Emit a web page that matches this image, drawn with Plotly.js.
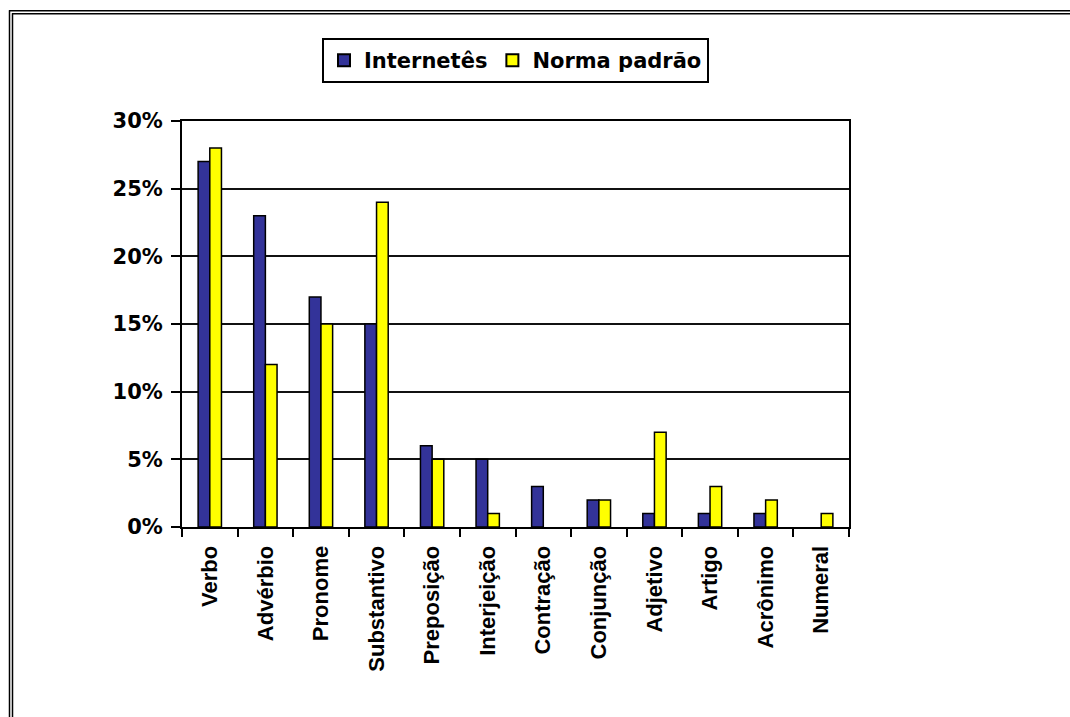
<!DOCTYPE html>
<html>
<head>
<meta charset="utf-8">
<script src="https://cdn.plot.ly/plotly-3.0.1.min.js"></script>
<style>
html,body{margin:0;padding:0;background:#fff;}
#chart{width:1070px;height:717px;}
</style>
</head>
<body>
<div id="chart"></div>
<script>
const categories = ["Verbo","Advérbio","Pronome","Substantivo","Preposição","Interjeição","Contração","Conjunção","Adjetivo","Artigo","Acrônimo","Numeral"];
const internetes = [0.27,0.23,0.17,0.15,0.06,0.05,0.03,0.02,0.01,0.01,0.01,0.00];
const normaPadrao = [0.28,0.12,0.15,0.24,0.05,0.01,0.00,0.02,0.07,0.03,0.02,0.01];
const seriesNames = ["Internetês","Norma padrão"];
const yTickVals = [0,0.05,0.10,0.15,0.20,0.25,0.30];
const yTickText = ["0%","5%","10%","15%","20%","25%","30%"];

const hFont = {family:"DejaVu Sans", size:21, color:"#000", weight:700};
const vFont = {family:"Liberation Sans", size:22, color:"#000", weight:700};

// no outline on zero-height bars (as in the original)
const outline = vals => vals.map(v => v > 0 ? 1.5 : 0);

const traces = [
  {type:"bar", name:seriesNames[0], x:categories, y:internetes,
   marker:{color:"#333399", line:{color:"#000", width:outline(internetes)}}},
  {type:"bar", name:seriesNames[1], x:categories, y:normaPadrao,
   marker:{color:"#FFFF00", line:{color:"#000", width:outline(normaPadrao)}}}
];

// plot area pixels: x 182..849, y 121..527.5
const L=182, R=849, T=121, B=527.5;
const px = p => (p-L)/(R-L);
const py = p => (B-p)/(B-T);

const layout = {
  width:1070, height:717,
  margin:{l:L, r:1070-R, t:T, b:717-B, pad:0},
  paper_bgcolor:"#fff", plot_bgcolor:"#fff",
  barmode:"group", bargap:0.58, bargroupgap:0,
  showlegend:true,
  legend:{orientation:"h", x:0.5, xanchor:"center", y:py(38), yanchor:"top",
    bordercolor:"#000", borderwidth:2, bgcolor:"#fff", font:hFont,
    itemsizing:"constant", itemwidth:30, tracegroupgap:0},
  xaxis:{type:"category", showline:true, linecolor:"#000", linewidth:2, mirror:true,
    ticks:"outside", tickson:"boundaries", ticklen:8, tickwidth:2, tickcolor:"#000",
    tickangle:-90, tickfont:vFont, ticklabelstandoff:8, showgrid:false, fixedrange:true},
  yaxis:{range:[0,0.30], tickvals:yTickVals, ticktext:yTickText, showline:true,
    linecolor:"#000", linewidth:2, mirror:true, ticks:"outside", ticklen:9, tickwidth:2,
    tickcolor:"#000", tickfont:hFont, showgrid:true, gridcolor:"#111", gridwidth:2,
    zeroline:false, ticklabelstandoff:4, fixedrange:true},
  shapes:[
    {type:"line", xref:"paper", yref:"paper", x0:px(9.5), x1:px(9.5), y0:py(10), y1:py(730), line:{color:"#000", width:1.5}},
    {type:"line", xref:"paper", yref:"paper", x0:px(12.5), x1:px(12.5), y0:py(13), y1:py(730), line:{color:"#000", width:1.5}},
    {type:"line", xref:"paper", yref:"paper", x0:px(9), x1:px(1080), y0:py(10.5), y1:py(10.5), line:{color:"#000", width:1.5}},
    {type:"line", xref:"paper", yref:"paper", x0:px(12), x1:px(1080), y0:py(13.5), y1:py(13.5), line:{color:"#000", width:1.5}}
  ]
};

Plotly.newPlot("chart", traces, layout, {displayModeBar:false, staticPlot:true});
</script>
</body>
</html>
